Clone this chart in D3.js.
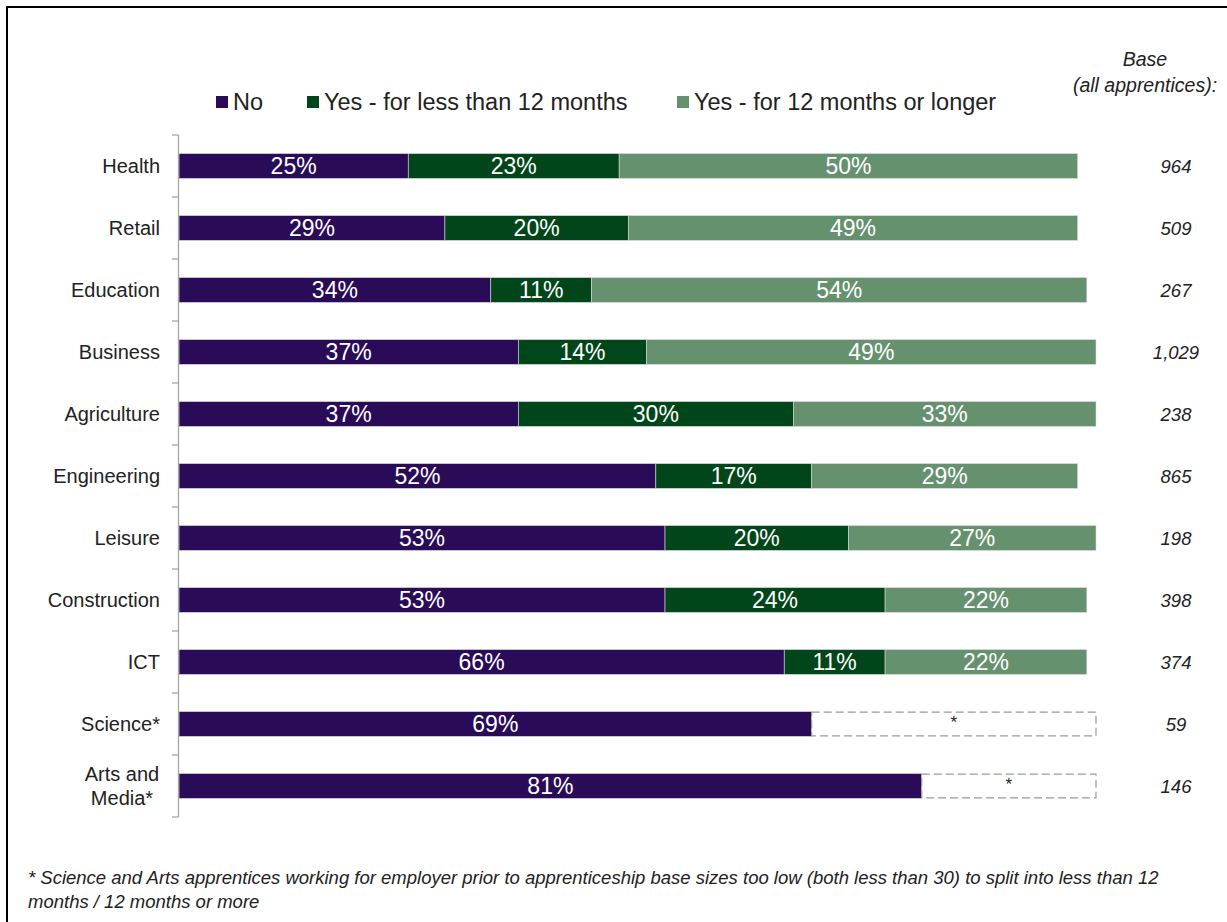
<!DOCTYPE html>
<html>
<head>
<meta charset="utf-8">
<script src="https://cdnjs.cloudflare.com/ajax/libs/d3/7.8.5/d3.min.js"></script>
<style>
  html, body { margin: 0; padding: 0; background: #fff; }
  svg { display: block; font-family: "Liberation Sans", Arial, sans-serif; }
</style>
</head>
<body>
<svg id="chart" width="1227" height="922"></svg>
<script>
// Sectors, top to bottom
const categories = ["Health", "Retail", "Education", "Business", "Agriculture", "Engineering",
  "Leisure", "Construction", "ICT", "Science*", "Arts and Media*"];
// Share of apprentices (%) by prior employment with the employer
const noValues        = [25, 29, 34, 37, 37, 52, 53, 53, 66, 69, 81];
const lessThan12      = [23, 20, 11, 14, 30, 17, 20, 24, 11, null, null];
const twelvePlus      = [50, 49, 54, 49, 33, 29, 27, 22, 22, null, null];
// Unweighted bases
const baseLabels = ["964", "509", "267", "1,029", "238", "865", "198", "398", "374", "59", "146"];

const seriesNames = ["No", "Yes - for less than 12 months", "Yes - for 12 months or longer"];
const seriesColors = ["#290b57", "#00461a", "#66916f"];

const svg = d3.select("#chart");

// outer frame
svg.append("rect").attr("x", 7).attr("y", 7).attr("width", 1260).attr("height", 960)
  .attr("fill", "none").attr("stroke", "#000").attr("stroke-width", 2);

const x = d3.scaleLinear().domain([0, 100]).range([179, 1096]);
const y = d3.scaleBand().domain(categories).range([135, 817]).paddingInner(0.6).paddingOuter(0.3);

const rows = categories.map((c, i) => ({
  cat: c,
  vals: [noValues[i], lessThan12[i], twelvePlus[i]],
  base: baseLabels[i]
}));

// stacked segments
rows.forEach(r => {
  let start = 0;
  const g = svg.append("g");
  r.vals.forEach((v, k) => {
    if (v == null) return;
    g.append("rect")
      .attr("x", x(start)).attr("y", y(r.cat))
      .attr("width", x(start + v) - x(start)).attr("height", y.bandwidth())
      .attr("fill", seriesColors[k]).attr("stroke", "#d9d9d9").attr("stroke-width", 0.6);
    g.append("text")
      .attr("x", (x(start) + x(start + v)) / 2).attr("y", y(r.cat) + y.bandwidth() / 2)
      .attr("dy", "0.36em").attr("text-anchor", "middle")
      .attr("fill", "#fff").attr("font-size", 23)
      .text(v + "%");
    start += v;
  });
  // suppressed split: dashed placeholder up to 100%
  if (r.vals[1] == null) {
    g.append("rect")
      .attr("x", x(start)).attr("y", y(r.cat) + 0.5)
      .attr("width", x(100) - x(start)).attr("height", y.bandwidth() - 1)
      .attr("fill", "#fff").attr("stroke", "#9a9a9a").attr("stroke-width", 1.2)
      .attr("stroke-dasharray", "8,4");
    g.append("text")
      .attr("x", (x(start) + x(100)) / 2).attr("y", y(r.cat) + 16)
      .attr("text-anchor", "middle").attr("font-size", 17).attr("fill", "#222")
      .text("*");
  }
  // base column
  svg.append("text")
    .attr("x", 1176).attr("y", y(r.cat) + y.bandwidth() / 2).attr("dy", "0.36em")
    .attr("text-anchor", "middle").attr("font-size", 18.5).attr("font-style", "italic")
    .attr("fill", "#222").text(r.base);
});

// category axis with tick marks between bands
const step = y.step();
const axisTop = 135, axisBottom = 817;
const axisG = svg.append("g");
axisG.append("line").attr("x1", 178.5).attr("x2", 178.5).attr("y1", axisTop).attr("y2", axisBottom)
  .attr("stroke", "#a6a6a6").attr("stroke-width", 1.3);
d3.range(categories.length + 1).forEach(i => {
  const ty = axisTop + i * step;
  axisG.append("line").attr("x1", 172).attr("x2", 178.5).attr("y1", ty).attr("y2", ty)
    .attr("stroke", "#a6a6a6").attr("stroke-width", 1.3);
});

categories.forEach(c => {
  const cy = y(c) + y.bandwidth() / 2;
  if (c === "Arts and Media*") {
    const t = axisG.append("text").attr("text-anchor", "middle").attr("font-size", 20).attr("fill", "#222");
    t.append("tspan").attr("x", 122).attr("y", cy - 12).attr("dy", "0.36em").text("Arts and");
    t.append("tspan").attr("x", 122).attr("y", cy + 12).attr("dy", "0.36em").text("Media*");
  } else {
    axisG.append("text").attr("x", 160).attr("y", cy).attr("dy", "0.36em")
      .attr("text-anchor", "end").attr("font-size", 20).attr("fill", "#222").text(c);
  }
});

// legend
const legendX = [216, 307, 677];
const legend = svg.append("g");
seriesNames.forEach((n, k) => {
  legend.append("rect").attr("x", legendX[k]).attr("y", 96).attr("width", 12).attr("height", 12)
    .attr("fill", seriesColors[k]);
  legend.append("text").attr("x", legendX[k] + 17).attr("y", 102).attr("dy", "0.36em")
    .attr("font-size", 23.5).attr("fill", "#222").text(n);
});

// base header
svg.append("text").attr("x", 1145).attr("y", 59).attr("dy", "0.36em").attr("text-anchor", "middle")
  .attr("font-size", 19.5).attr("font-style", "italic").attr("fill", "#222").text("Base");
svg.append("text").attr("x", 1145).attr("y", 85).attr("dy", "0.36em").attr("text-anchor", "middle")
  .attr("font-size", 19.5).attr("font-style", "italic").attr("fill", "#222").text("(all apprentices):");

// footnote
const foot = svg.append("text").attr("font-size", 18.5).attr("font-style", "italic").attr("fill", "#222");
foot.append("tspan").attr("x", 28).attr("y", 884)
  .text("* Science and Arts apprentices working for employer prior to apprenticeship base sizes too low (both less than 30) to split into less than 12");
foot.append("tspan").attr("x", 28).attr("y", 908).text("months / 12 months or more");
</script>
</body>
</html>
